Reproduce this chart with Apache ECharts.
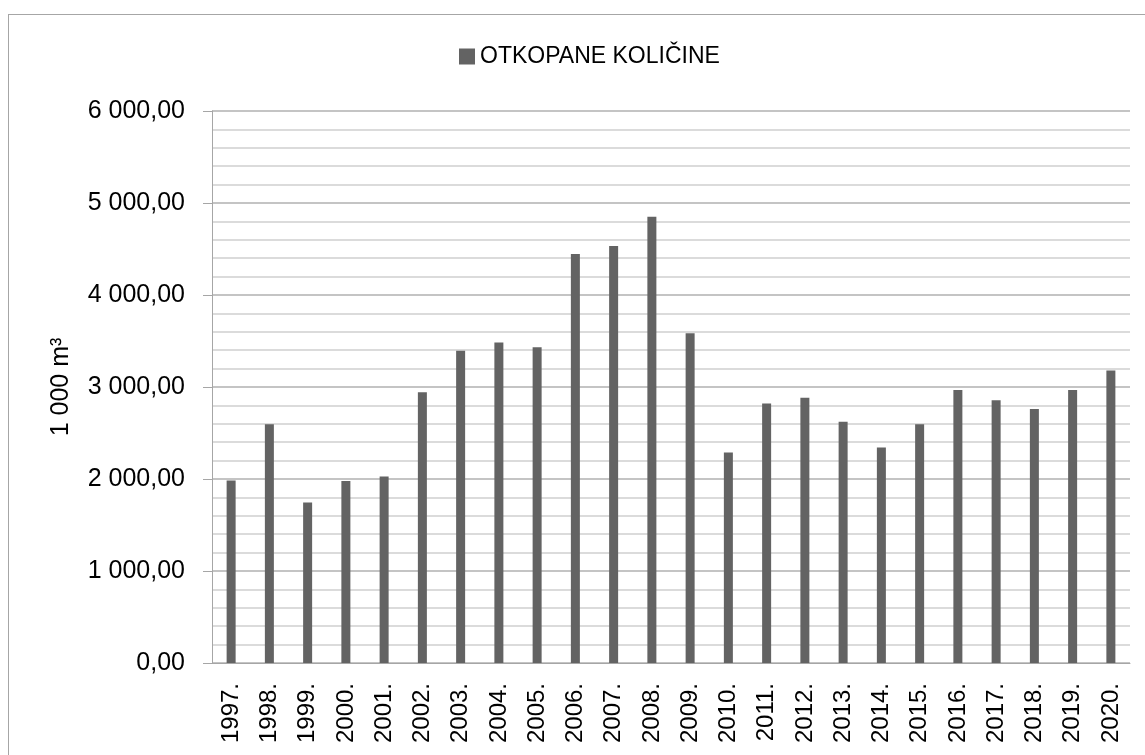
<!DOCTYPE html>
<html>
<head>
<meta charset="utf-8">
<script src="https://cdn.jsdelivr.net/npm/echarts@6/dist/echarts.min.js"></script>
<style>
    html, body { margin: 0; padding: 0; overflow: hidden; background: #fff; }
    #frame { position: absolute; left: 8px; top: 14px; width: 1200px; height: 800px; border: 1px solid #a6a6a6; }
    #chart { position: absolute; left: 0; top: 0; width: 1145px; height: 755px; }
</style>
</head>
<body>
<div id="frame"></div>
<div id="chart"></div>
<script>
var years = ['1997.', '1998.', '1999.', '2000.', '2001.', '2002.', '2003.', '2004.',
    '2005.', '2006.', '2007.', '2008.', '2009.', '2010.', '2011.', '2012.',
    '2013.', '2014.', '2015.', '2016.', '2017.', '2018.', '2019.', '2020.'];
var otkopano = [1985, 2595, 1745, 1978, 2027, 2943, 3395, 3485,
    3431, 4445, 4532, 4850, 3583, 2288, 2820, 2882,
    2621, 2342, 2595, 2968, 2856, 2762, 2968, 3178];
var seriesName = 'OTKOPANE KOLIČINE';
var yName = '1 000 m³';

var fontFam = '"Liberation Sans", Arial, sans-serif';

function fmt(v) {
    var s = v.toFixed(2).split('.');
    return s[0].replace(/\B(?=(\d{3})+(?!\d))/g, ' ') + ',' + s[1];
}

var chart = echarts.init(document.getElementById('chart'));
chart.setOption({
    animation: false,
    legend: {
        left: 454,
        top: 40,
        itemWidth: 16,
        itemHeight: 16,
        itemGap: 10,
        icon: 'rect',
        textStyle: { fontSize: 23, color: '#000', fontFamily: fontFam },
        data: [seriesName]
    },
    grid: {
        left: 212,
        right: 15,
        top: 111,
        bottom: 92
    },
    xAxis: {
        type: 'category',
        data: years,
        axisLine: { lineStyle: { color: '#a6a6a6', width: 1 } },
        axisTick: { show: false },
        axisLabel: {
            rotate: 90,
            margin: 20,
            fontSize: 24,
            fontFamily: fontFam,
            color: '#000',
            interval: 0
        }
    },
    yAxis: {
        type: 'value',
        min: 0,
        max: 6000,
        interval: 1000,
        name: yName,
        nameLocation: 'middle',
        nameGap: 138,
        nameRotate: 90,
        nameTextStyle: { fontSize: 25, fontFamily: fontFam, color: '#000' },
        axisLine: { show: true, lineStyle: { color: '#a6a6a6', width: 1 } },
        axisTick: { show: true, length: 9, lineStyle: { color: '#a6a6a6' } },
        axisLabel: {
            margin: 27,
            fontSize: 25,
            fontFamily: fontFam,
            color: '#000',
            formatter: fmt
        },
        splitLine: { lineStyle: { color: '#b0b0b0', width: 1.5 } },
        minorTick: { show: false, splitNumber: 5 },
        minorSplitLine: { show: true, lineStyle: { color: '#d0d0d0', width: 1.5 } }
    },
    series: [{
        name: seriesName,
        type: 'bar',
        barWidth: 9,
        data: otkopano,
        itemStyle: { color: '#636363' }
    }]
});
</script>
</body>
</html>
